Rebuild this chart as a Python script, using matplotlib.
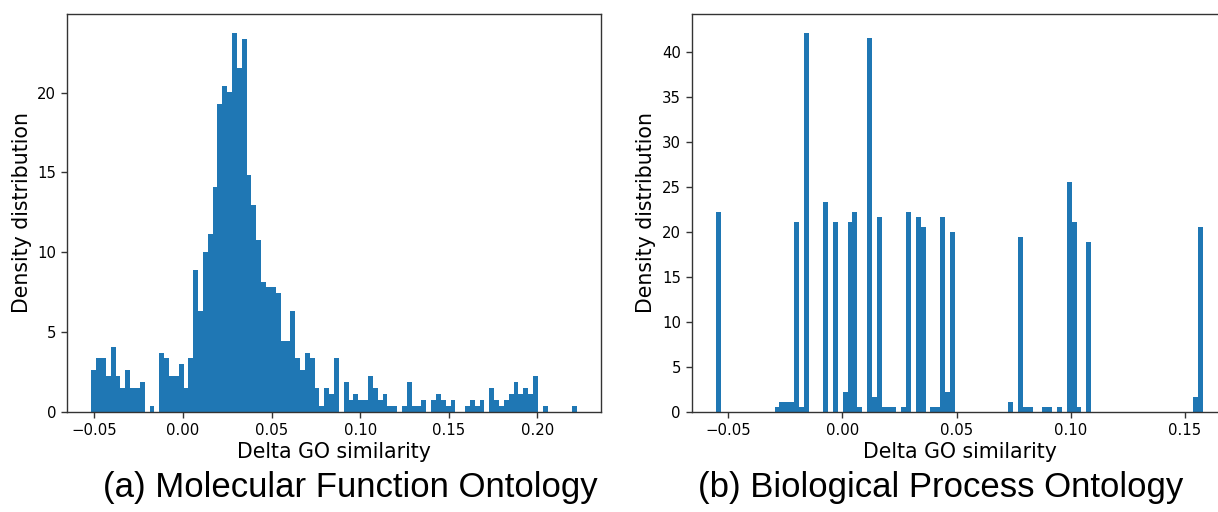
import numpy as np
import matplotlib
matplotlib.use("Agg")
import matplotlib.pyplot as plt

# ---------------- data ----------------
# (a) Molecular Function Ontology: 100 bins, counts per bin
mf_range = (-0.0517, 0.2222)
mf_counts = [7, 9, 9, 6, 11, 6, 4, 7, 4, 4,
             5, 0, 1, 0, 10, 9, 6, 6, 8, 4,
             9, 24, 17, 27, 30, 38, 52, 55, 54, 64,
             58, 63, 40, 35, 29, 22, 21, 21, 20, 12,
             12, 17, 9, 7, 10, 9, 4, 1, 4, 3,
             9, 0, 5, 2, 3, 2, 2, 6, 4, 2,
             3, 1, 1, 0, 1, 5, 1, 1, 2, 0,
             2, 3, 2, 1, 2, 0, 0, 1, 2, 1,
             2, 0, 4, 2, 1, 2, 3, 5, 3, 4,
             3, 6, 0, 1, 0, 0, 0, 0, 0, 1]

# (b) Biological Process Ontology: 100 bins, counts per bin
bp_range = (-0.0554, 0.1581)
bp_counts = [0] * 100
bp_nonzero = {0: 40, 12: 1, 13: 2, 14: 2, 15: 2, 16: 38, 17: 1, 18: 76,
              22: 42, 24: 38, 26: 4, 27: 38, 28: 40, 29: 1, 31: 75, 32: 3,
              33: 39, 34: 1, 35: 1, 36: 1, 38: 1, 39: 40, 41: 39, 42: 37,
              44: 1, 45: 1, 46: 39, 47: 4, 48: 36, 60: 2, 62: 35, 63: 1,
              64: 1, 67: 1, 68: 1, 70: 1, 72: 46, 73: 38, 74: 1, 76: 34,
              98: 3, 99: 37}
for k, v in bp_nonzero.items():
    bp_counts[k] = v

x_label = "Delta GO similarity"
y_label = "Density distribution"
captions = ["(a) Molecular Function Ontology", "(b) Biological Process Ontology"]

# ---------------- figure ----------------
W, H = 1218, 512
fig = plt.figure(figsize=(W / 100, H / 100), dpi=100)

bar_color = "#1f77b4"
tick_fs = 10.7
label_fs = 14.8


def px_axes(l, r, t, b):
    return [l / W, 1 - b / H, (r - l) / W, (b - t) / H]


ax1 = fig.add_axes(px_axes(67, 601, 14, 411.7))
ax2 = fig.add_axes(px_axes(691.7, 1227.6, 14, 411.7))

for ax, counts, rng in [(ax1, mf_counts, mf_range), (ax2, bp_counts, bp_range)]:
    edges = np.linspace(rng[0], rng[1], len(counts) + 1)
    centers = 0.5 * (edges[:-1] + edges[1:])
    ax.hist(centers, bins=edges, weights=counts, density=True, color=bar_color)
    ax.set_xlabel(x_label, fontsize=label_fs, labelpad=3)
    ax.set_ylabel(y_label, fontsize=label_fs, labelpad=4)
    ax.tick_params(labelsize=tick_fs, width=1.0, length=4.3, color="#333333")
    for s in ax.spines.values():
        s.set_linewidth(1.0)
        s.set_color("#333333")

ax1.set_yticks([0, 5, 10, 15, 20])
ax2.set_yticks([0, 5, 10, 15, 20, 25, 30, 35, 40])
ax1.set_xticks([-0.05, 0.0, 0.05, 0.10, 0.15, 0.20])
ax2.set_xticks([-0.05, 0.0, 0.05, 0.10, 0.15])

fig.text(350 / W, 1 - 488 / H, captions[0], ha="center", va="center",
         fontsize=25, family="Liberation Sans")
fig.text(940.5 / W, 1 - 488 / H, captions[1], ha="center", va="center",
         fontsize=25, family="Liberation Sans")

fig.savefig("out.png", dpi=100)
